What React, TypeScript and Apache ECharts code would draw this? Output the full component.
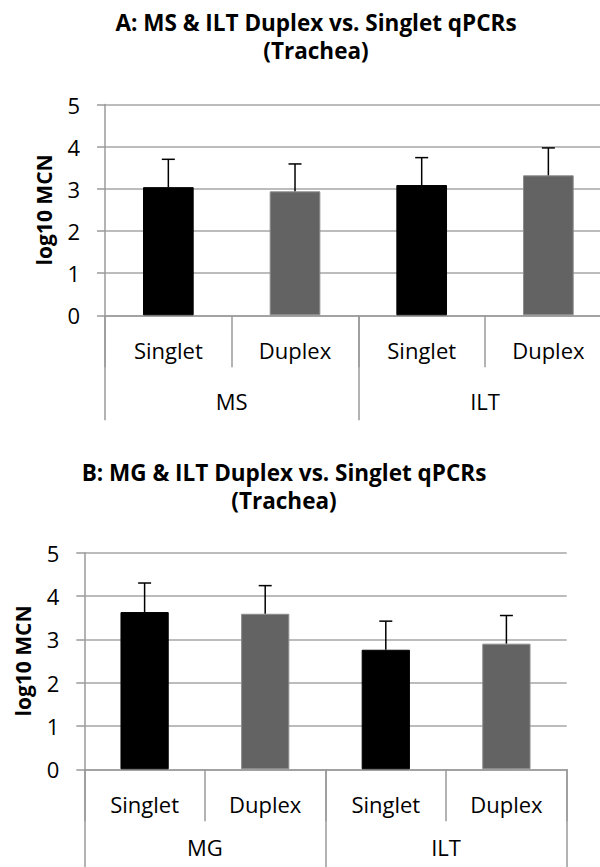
import React, { useEffect, useRef } from "react";
import * as echarts from "echarts";

// ---- data ----
const categories = ["Singlet", "Duplex", "Singlet", "Duplex"];
const groupsA = ["MS", "ILT"];
const groupsB = ["MG", "ILT"];
const titleA = ["A: MS & ILT Duplex vs. Singlet qPCRs", "(Trachea)"];
const titleB = ["B: MG & ILT Duplex vs. Singlet qPCRs", "(Trachea)"];
const yAxisName = "log10 MCN";
const meansA = [3.04, 2.94, 3.09, 3.32];
const errorsA = [0.66, 0.65, 0.65, 0.65];
const meansB = [3.63, 3.59, 2.76, 2.9];
const errorsB = [0.67, 0.65, 0.66, 0.65];
const yTicks = { min: 0, max: 5, interval: 1 };

const FONT = "'Open Sans', 'Noto Sans', sans-serif";
const barColors = ["#000000", "#636363"];
const AXIS = "#9a9a9a";
const GRIDC = "#a6a6a6";

export default function App() {
  const ref = useRef<HTMLDivElement>(null);
  useEffect(() => {
    if (!ref.current) return;
    const chart = echarts.init(ref.current, null, { renderer: "svg" });

    const grids = [
      { left: 105, top: 104.5, width: 506.7, height: 210.8 },
      { left: 105, top: 104.5, width: 506.7, height: 210.8 },
      { left: 84.3, top: 552.7, width: 482.4, height: 216.6 },
      { left: 84.3, top: 552.7, width: 482.4, height: 216.6 },
    ].map((g) => ({ ...g, containLabel: false, outerBoundsMode: "none" }));

    const catAxis = (gridIndex: number) => ({
      type: "category",
      gridIndex,
      data: categories,
      axisLine: { show: true, lineStyle: { color: AXIS, width: 1.5 } },
      axisTick: { show: true, length: 52, interval: 0, lineStyle: { color: AXIS, width: 1.5 } },
      axisLabel: { interval: 0, fontSize: 22, color: "#000", margin: 35, verticalAlign: "middle", fontFamily: FONT },
      splitLine: { show: false },
    });
    const groupAxis = (gridIndex: number, data: string[], len: number, margin: number) => ({
      type: "category",
      gridIndex,
      data,
      axisLine: { show: false },
      axisTick: { show: true, length: len, interval: 0, lineStyle: { color: AXIS, width: 1.5 } },
      axisLabel: { interval: 0, fontSize: 22, color: "#000", margin, verticalAlign: "middle", fontFamily: FONT },
      splitLine: { show: false },
    });
    const valAxis = (gridIndex: number) => ({
      type: "value",
      gridIndex,
      ...yTicks,
      name: yAxisName,
      nameLocation: "middle",
      nameRotate: 90,
      nameGap: 51,
      nameTextStyle: { fontSize: 21, fontWeight: "bold", color: "#000", fontFamily: FONT },
      axisLine: { show: true, lineStyle: { color: AXIS, width: 1.5 } },
      axisTick: { show: true, length: 8, lineStyle: { color: AXIS, width: 1.5 } },
      axisLabel: { fontSize: 22, color: "#000", margin: 25, fontFamily: FONT },
      splitLine: { show: true, lineStyle: { color: GRIDC, width: 1.5 } },
    });
    const hiddenY = (gridIndex: number) => ({ type: "value", gridIndex, show: false, min: 0, max: 1 });

    const barSeries = (means: number[], xAxisIndex: number, yAxisIndex: number) => ({
      type: "bar",
      xAxisIndex,
      yAxisIndex,
      barWidth: "40%",
      data: means.map((v, i) => ({
        value: v,
        itemStyle: {
          color: barColors[i % 2],
          borderColor: i % 2 ? "#8c8c8c" : "#000",
          borderWidth: 1,
        },
      })),
    });
    const errSeries = (means: number[], errs: number[], xAxisIndex: number, yAxisIndex: number) => ({
      type: "custom",
      xAxisIndex,
      yAxisIndex,
      z: 5,
      encode: { x: 0, y: [1, 2] },
      data: means.map((m, i) => [i, m, m + errs[i]]),
      renderItem: (params: any, api: any) => {
        const x = api.value(0);
        const p0 = api.coord([x, api.value(1)]);
        const p1 = api.coord([x, api.value(2)]);
        const st = { stroke: "#000", lineWidth: 1.5 };
        return {
          type: "group",
          children: [
            { type: "line", shape: { x1: p0[0], y1: p0[1], x2: p1[0], y2: p1[1] }, style: st },
            { type: "line", shape: { x1: p1[0] - 6.5, y1: p1[1], x2: p1[0] + 6.5, y2: p1[1] }, style: st },
          ],
        };
      },
    });

    const titleText = (lines: string[], x: number, y: number) => ({
      type: "text",
      x,
      y,
      style: {
        text: lines.join("\n"),
        fill: "#000",
        fontSize: 22.5,
        fontWeight: "bold",
        fontFamily: FONT,
        lineHeight: 28,
        align: "center",
        verticalAlign: "middle",
      },
    });

    chart.setOption({
      animation: false,
      backgroundColor: "#fff",
      grid: grids,
      xAxis: [
        catAxis(0),
        groupAxis(1, groupsA, 105, 86),
        catAxis(2),
        groupAxis(3, groupsB, 98, 78),
      ],
      yAxis: [valAxis(0), hiddenY(1), valAxis(2), hiddenY(3)],
      series: [
        barSeries(meansA, 0, 0),
        errSeries(meansA, errorsA, 0, 0),
        barSeries(meansB, 2, 2),
        errSeries(meansB, errorsB, 2, 2),
      ],
      graphic: [
        titleText(titleA, 316, 36.5),
        titleText(titleB, 284, 486.5),
      ],
    });
    return () => chart.dispose();
  }, []);
  return (
    <div
      ref={ref}
      style={{ position: "absolute", left: 0, top: 0, width: 600, height: 867, background: "#fff" }}
    />
  );
}
